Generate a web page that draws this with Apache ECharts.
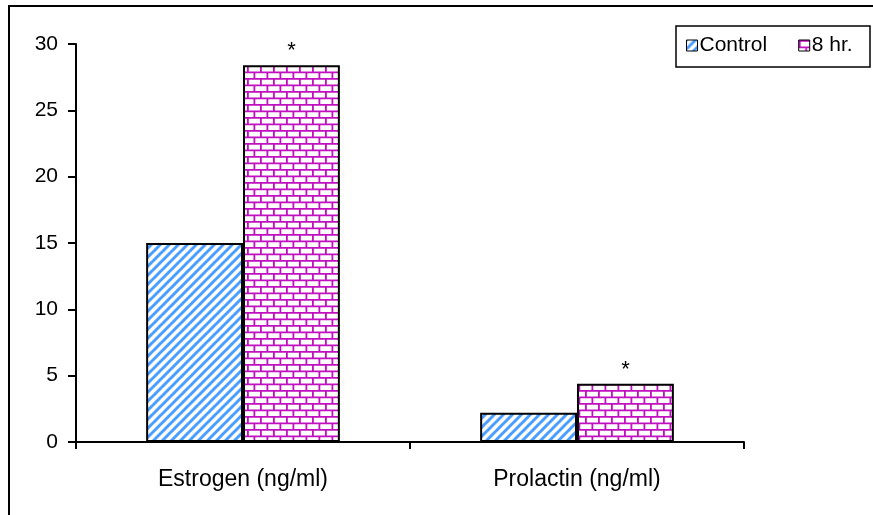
<!DOCTYPE html>
<html><head><meta charset="utf-8">
<script src="https://cdn.jsdelivr.net/npm/echarts@6/dist/echarts.min.js"></script>
<style>html,body{margin:0;padding:0;background:#fff}#c{width:873px;height:515px}</style>
</head><body><div id="c"></div>
<script>
const categories = ['Estrogen (ng/ml)', 'Prolactin (ng/ml)'];
const seriesNames = ['Control', '8 hr.'];
const controlValues = [15.0, 2.2];
const eightHrValues = [28.4, 4.4];
const significance = ['*', '*'];
const yTicks = [0, 5, 10, 15, 20, 25, 30];

function stripePattern() {
  const s = 9, c = document.createElement('canvas');
  c.width = s; c.height = s;
  const g = c.getContext('2d');
  g.fillStyle = '#fff'; g.fillRect(0, 0, s, s);
  g.strokeStyle = '#4a9eff'; g.lineWidth = 3;
  for (let k = -1; k <= 1; k++) {
    g.beginPath(); g.moveTo(k * s - 1, s + 1); g.lineTo(k * s + s + 1, -1); g.stroke();
  }
  return c;
}
function brickPattern() {
  const w = 13, h = 13, c = document.createElement('canvas');
  c.width = w; c.height = h;
  const g = c.getContext('2d');
  g.fillStyle = '#fff'; g.fillRect(0, 0, w, h);
  g.strokeStyle = '#c010c0'; g.lineWidth = 1.8;
  g.beginPath();
  g.moveTo(0, 0.9); g.lineTo(w, 0.9);
  g.moveTo(0, 7.4); g.lineTo(w, 7.4);
  g.moveTo(0.9, 0); g.lineTo(0.9, 6.5);
  g.moveTo(7.4, 6.5); g.lineTo(7.4, 13);
  g.stroke();
  return c;
}
const font = 'Liberation Sans, Arial, sans-serif';
const chart = echarts.init(document.getElementById('c'), null, {renderer: 'canvas'});
chart.setOption({
  animation: false,
  backgroundColor: '#fff',
  grid: {left: 76, top: 44, right: 129, bottom: 73, containLabel: false},
  graphic: [
    {type: 'rect', shape: {x: 9, y: 6, width: 880, height: 530}, style: {fill: 'none', stroke: '#000', lineWidth: 2}, z: -1},
    {type: 'rect', shape: {x: 676, y: 26, width: 194, height: 41}, style: {fill: '#fff', stroke: '#000', lineWidth: 1.5}, z: 0}
  ],
  legend: {
    left: 686, top: 35, itemWidth: 11, itemHeight: 11, itemGap: 31, icon: 'rect',
    padding: 0,
    textStyle: {fontFamily: font, fontSize: 21, color: '#000', padding: [0, 0, 0, -3]},
    itemStyle: {borderColor: '#000', borderWidth: 1},
    z: 5
  },
  xAxis: {
    type: 'category', data: categories,
    axisLine: {lineStyle: {color: '#000', width: 2}},
    axisTick: {show: true, length: 7, lineStyle: {color: '#000', width: 2}},
    axisLabel: {fontFamily: font, fontSize: 23, color: '#000', margin: 26}
  },
  yAxis: {
    type: 'value', min: yTicks[0], max: yTicks[yTicks.length - 1], interval: 5,
    axisLine: {show: true, lineStyle: {color: '#000', width: 2}},
    axisTick: {show: true, length: 8, lineStyle: {color: '#000', width: 2}},
    splitLine: {show: false},
    axisLabel: {fontFamily: font, fontSize: 21, color: '#000', margin: 18}
  },
  series: [
    {
      name: seriesNames[0], type: 'bar', data: controlValues,
      barGap: '0%', barCategoryGap: '42%',
      itemStyle: {color: {image: stripePattern(), repeat: 'repeat'}, borderColor: '#000', borderWidth: 2}
    },
    {
      name: seriesNames[1], type: 'bar', data: eightHrValues,
      barGap: '0%', barCategoryGap: '42%',
      itemStyle: {color: {image: brickPattern(), repeat: 'repeat'}, borderColor: '#000', borderWidth: 2},
      label: {show: true, position: 'top', distance: 3, fontFamily: font, fontSize: 22, color: '#000',
        formatter: p => significance[p.dataIndex]}
    }
  ]
});
</script></body></html>
